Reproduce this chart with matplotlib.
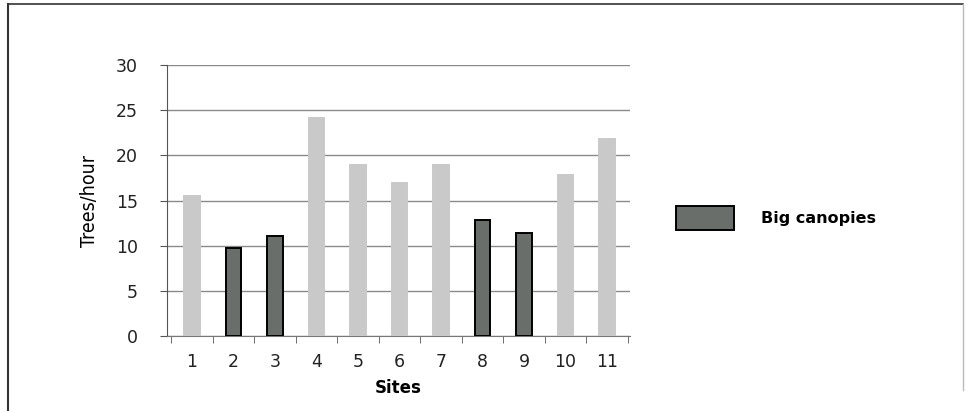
import numpy as np
import matplotlib.pyplot as plt
from matplotlib.patches import Patch
from matplotlib.lines import Line2D

# trees per hour counted at each site
sites = ['1', '2', '3', '4', '5', '6', '7', '8', '9', '10', '11']
trees_per_hour = [15.5, 9.7, 11.1, 24.1, 18.9, 16.9, 18.9, 12.8, 11.4, 17.8, 21.8]
big_canopy = [False, True, True, False, False, False, False, True, True, False, False]

light = '#c9c9c9'
dark = '#6a6e6a'

fig = plt.figure(figsize=(9.66, 4.11), dpi=100)
ax = fig.add_axes([0.173, 0.182, 0.479, 0.660])

x = np.arange(len(sites))
colors = [dark if b else light for b in big_canopy]
edges = ['black' if b else light for b in big_canopy]
ax.bar(x, trees_per_hour, width=0.38, color=colors, edgecolor=edges,
       linewidth=1.4, zorder=3)

ax.set_ylim(0, 30)
ax.set_xlim(-0.6, len(sites) - 0.45)
ax.set_yticks(range(0, 31, 5))
ax.set_xticks(x)
ax.set_xticklabels(sites)
ax.set_xticks(np.arange(-0.5, len(sites)), minor=True)
ax.tick_params(axis='x', which='major', length=0, pad=12, labelsize=12.5, colors='#222222')
ax.tick_params(axis='x', which='minor', length=5, color='#555555', direction='out')
ax.tick_params(axis='y', length=5, color='#555555', labelsize=12.5, pad=16, colors='#222222')
ax.grid(axis='y', color='#8a8a8a', linewidth=1.0, zorder=0)

for side in ['top', 'right']:
    ax.spines[side].set_visible(False)
ax.spines['left'].set_color('#555555')
ax.spines['bottom'].set_color('#777777')

ax.set_ylabel('Trees/hour', family='DejaVu Sans', fontstretch='condensed',
              fontsize=14, labelpad=12)
ax.set_xlabel('Sites', fontweight='bold', fontsize=12, labelpad=6)

fig.legend(handles=[Patch(facecolor=dark, edgecolor='black', linewidth=1.4)],
           labels=['Big canopies'], loc='center left',
           bbox_to_anchor=(0.685, 0.47), frameon=False, handlelength=3.6,
           handleheight=1.9, handletextpad=1.7,
           prop={'weight': 'bold', 'size': 11.5})

# frame around the whole figure
fig.add_artist(Line2D([0.008, 0.008], [0.0, 0.99], color='#333333', lw=1.5))
fig.add_artist(Line2D([0.008, 0.997], [0.99, 0.99], color='#333333', lw=1.2))
fig.add_artist(Line2D([0.997, 0.997], [0.05, 0.99], color='#bbbbbb', lw=1.0))

fig.savefig('out.png', dpi=100)
